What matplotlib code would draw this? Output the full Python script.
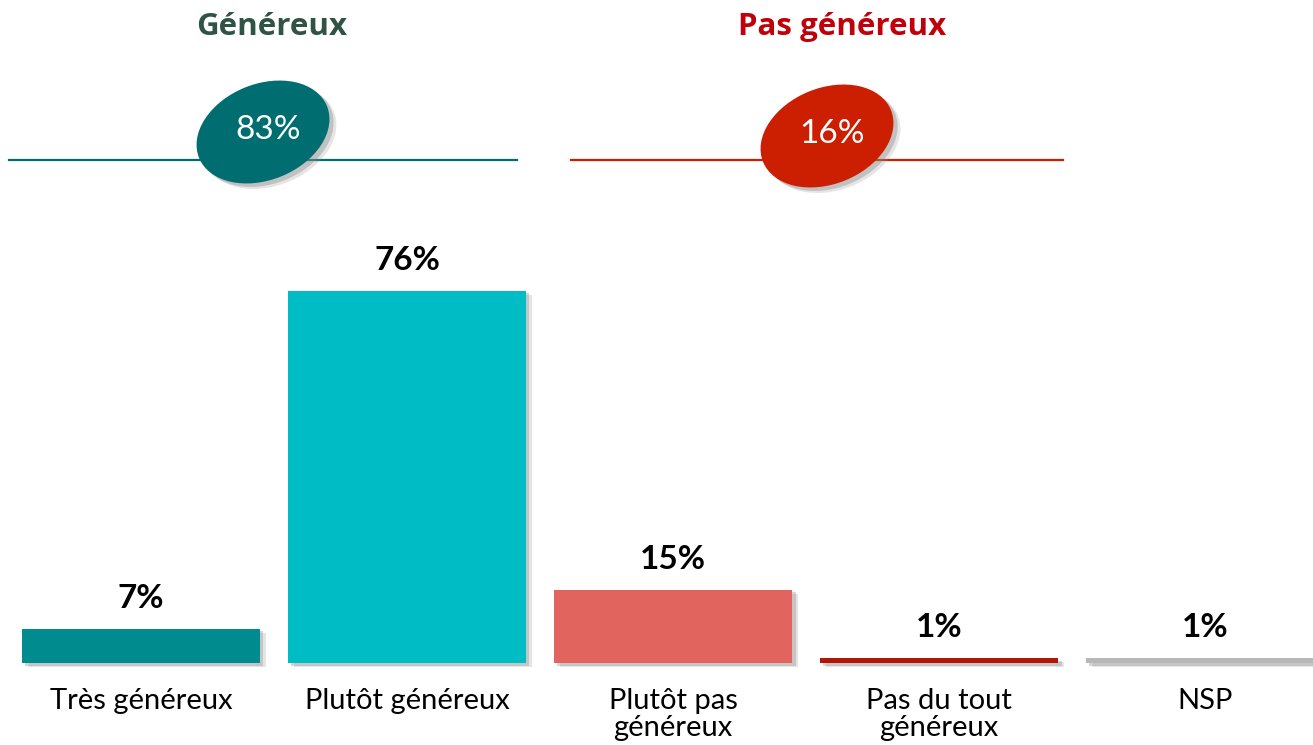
import matplotlib
matplotlib.use('Agg')
import matplotlib.pyplot as plt
import matplotlib.patheffects as pe
from matplotlib.patches import Ellipse

##DATA
categories = ['Très généreux', 'Plutôt généreux', 'Plutôt pas\ngénéreux',
              'Pas du tout\ngénéreux', 'NSP']
values = [7, 76, 15, 1, 1]
bar_colors = ['#008B8F', '#00BCC4', '#E2645F', '#B01707', '#B8B8B8']
groups = ['Généreux', 'Pas généreux']
group_totals = [83, 16]
group_colors = ['#006E70', '#CC1E00']
group_title_colors = ['#2F5443', '#C0000B']

plt.rcParams['font.family'] = ['Lato', 'DejaVu Sans']

fig = plt.figure(figsize=(13.13, 7.45), dpi=100)
ax = fig.add_axes([0, 0, 1, 1])
ax.set_xlim(-0.530, 4.406)
ax.set_ylim(-16.73, 135.3)
ax.axis('off')

# soft-ish shadow: two layers
shadow = [pe.SimplePatchShadow(offset=(4, -3), shadow_rgbFace='#9a9a9a', alpha=0.25),
          pe.SimplePatchShadow(offset=(2.5, -2), shadow_rgbFace='#8a8a8a', alpha=0.35),
          pe.Normal()]

bars = ax.bar(range(len(values)), values, width=0.895, color=bar_colors, zorder=2)
for b in bars:
    b.set_path_effects(shadow)

for i, v in enumerate(values):
    ax.annotate(f'{v}%', xy=(i, v), xytext=(0, 16), textcoords='offset pixels',
                ha='center', va='bottom', fontsize=24, fontweight='bold', color='black')
    ax.text(i, -5.0, categories[i], ha='center', va='top', fontsize=21,
            color='black', linespacing=1.08)

# group headers, lines and ellipses (pixel space, 1 inch = 100 px)
px = fig.dpi_scale_trans
H = 7.45
line_spans = [(9, 517), (571, 1063)]
ell_centers = [(263, 132), (827, 136)]
title_x = [272, 842]
for k in range(2):
    x0, x1 = line_spans[k]
    fig.add_artist(plt.Line2D([x0 / 100, x1 / 100], [H - 1.60, H - 1.60], transform=px,
                              color=group_colors[k], lw=1.6, zorder=1))
    cx, cy = ell_centers[k]
    e = Ellipse((cx / 100, H - cy / 100), 1.38, 0.96, angle=22, transform=px,
                facecolor=group_colors[k], edgecolor='none', zorder=3)
    e.set_path_effects([pe.SimplePatchShadow(offset=(5, -4), shadow_rgbFace='#9a9a9a', alpha=0.25),
                        pe.SimplePatchShadow(offset=(3, -2.5), shadow_rgbFace='#808080', alpha=0.35),
                        pe.Normal()])
    fig.add_artist(e)
    fig.text(cx / 100 + 0.05, H - (cy - 2) / 100, f'{group_totals[k]}%', transform=px,
             ha='center', va='center', fontsize=24, color='white', zorder=4)
    fig.text(title_x[k] / 100, H - 0.27, groups[k], transform=px, ha='center', va='center',
             fontsize=22.5, fontweight='bold', color=group_title_colors[k],
             family=['Open Sans', 'DejaVu Sans'])

plt.savefig('out.png', dpi=100)
